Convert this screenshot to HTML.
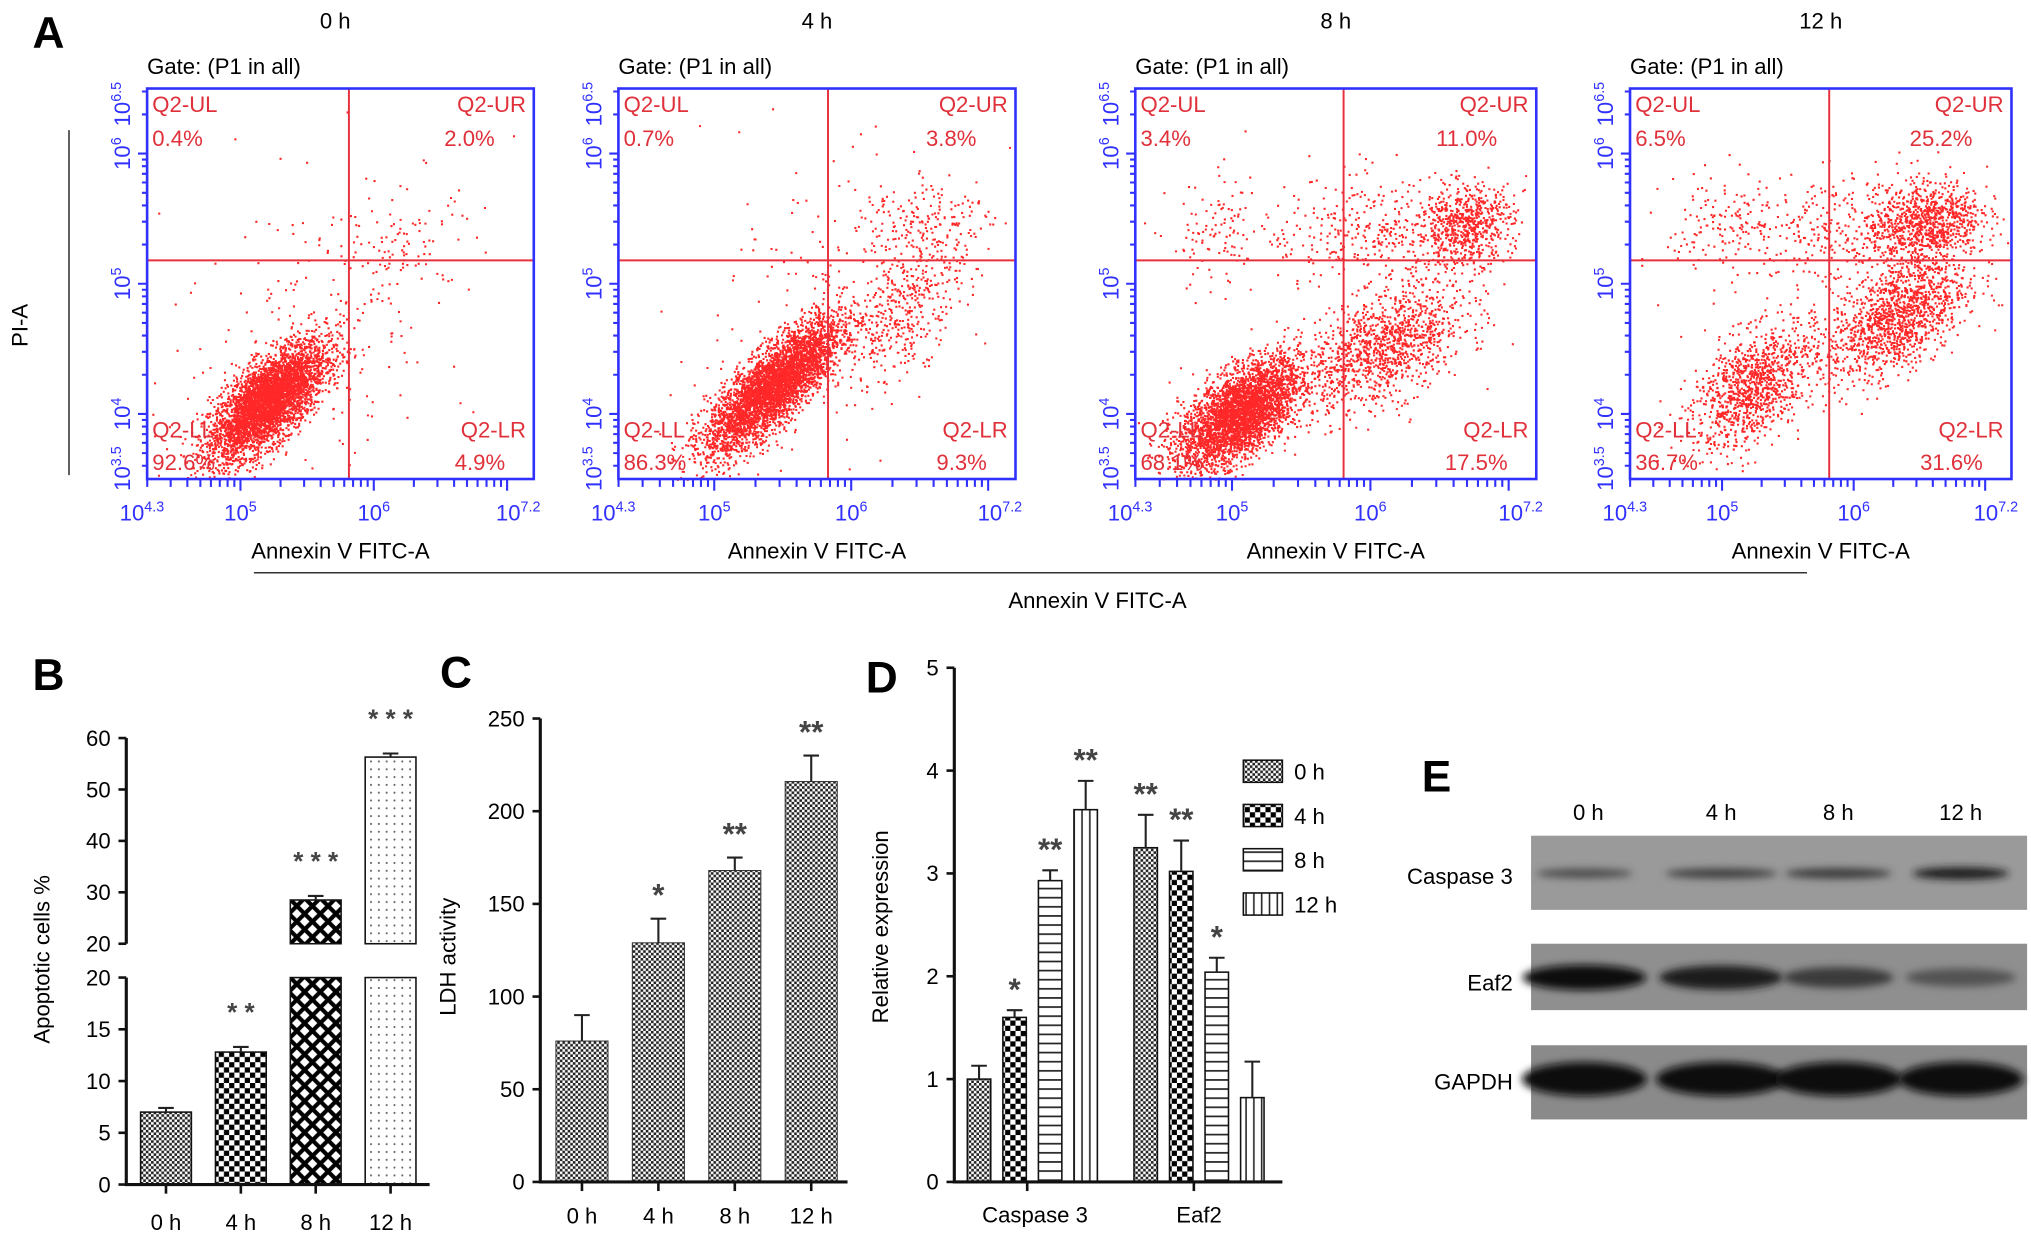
<!DOCTYPE html>
<html><head><meta charset="utf-8"><style>
html,body{margin:0;padding:0;background:#fff}
svg{display:block}
text{font-family:"Liberation Sans",sans-serif}
</style></head>
<body>
<svg id="fig" xmlns="http://www.w3.org/2000/svg" width="2031" height="1234" viewBox="0 0 1560 948" preserveAspectRatio="none">
<defs>
<pattern id="pFine" width="4" height="4" patternUnits="userSpaceOnUse"><rect width="4" height="4" fill="#fff"/><rect width="2" height="2" fill="#222"/><rect x="2" y="2" width="2" height="2" fill="#222"/></pattern>
<pattern id="pChk" width="8" height="8" patternUnits="userSpaceOnUse"><rect width="8" height="8" fill="#fff"/><rect width="4" height="4" fill="#000"/><rect x="4" y="4" width="4" height="4" fill="#000"/></pattern>
<pattern id="pDia" width="12" height="12" patternUnits="userSpaceOnUse"><rect width="12" height="12" fill="#fff"/><path d="M0 0L12 12M12 0L0 12M-3 9L3 15M9 -3L15 3M-3 3L3 -3M9 15L15 9" stroke="#000" stroke-width="3.2"/></pattern>
<pattern id="pDot" width="6" height="6" patternUnits="userSpaceOnUse"><rect width="6" height="6" fill="#fff"/><circle cx="3" cy="3" r="0.8" fill="#666"/></pattern>
<pattern id="pH" width="8" height="7" patternUnits="userSpaceOnUse"><rect width="8" height="7" fill="#fff"/><rect y="3" width="8" height="1.3" fill="#222"/></pattern>
<pattern id="pV" width="6" height="8" patternUnits="userSpaceOnUse"><rect width="6" height="8" fill="#fff"/><rect x="2.5" width="1.2" height="8" fill="#222"/></pattern>
<filter id="blur" x="-20%" y="-100%" width="140%" height="300%"><feGaussianBlur stdDeviation="3"/></filter>
</defs>
</svg>
<script>
// ---------- DATA ----------
const timeLabels = ["0 h","4 h","8 h","12 h"];
const qUL = ["0.4%","0.7%","3.4%","6.5%"];
const qUR = ["2.0%","3.8%","11.0%","25.2%"];
const qLL = ["92.6%","86.3%","68.1%","36.7%"];
const qLR = ["4.9%","9.3%","17.5%","31.6%"];
// clusters per plot: [u, v, sdU, sdV, rho, count] in plot-fraction coordinates
const clusters0 = [[0.31,0.20,0.075,0.075,0.7,4200],[0.66,0.60,0.09,0.07,0.2,90],[0.45,0.40,0.2,0.2,0.3,200]];
const clusters1 = [[0.39,0.24,0.085,0.085,0.8,4200],[0.73,0.45,0.07,0.1,0.6,400],[0.76,0.66,0.09,0.06,0.1,160],[0.5,0.45,0.2,0.2,0.3,150]];
const clusters2 = [[0.26,0.17,0.075,0.07,0.6,3600],[0.62,0.34,0.1,0.08,0.5,1200],[0.82,0.65,0.06,0.05,0.2,650],[0.6,0.64,0.15,0.07,0.1,380],[0.2,0.62,0.06,0.08,0.1,100]];
const clusters3 = [[0.32,0.24,0.08,0.08,0.5,1100],[0.70,0.42,0.09,0.08,0.5,1350],[0.78,0.66,0.07,0.05,0.2,800],[0.58,0.64,0.15,0.07,0.1,380],[0.25,0.65,0.08,0.07,0.1,150]];
const bCats = ["0 h","4 h","8 h","12 h"];
const bVals = [7.0,12.8,28.5,56.3];
const bErrs = [0.4,0.5,0.8,0.7];
const bStars = ["","* *","* * *","* * *"];
const bYTicksUpper = [20,30,40,50,60];
const bYTicksLower = [0,5,10,15,20];
const cCats = ["0 h","4 h","8 h","12 h"];
const cVals = [76,129,168,216];
const cErrs = [14,13,7,14];
const cStars = ["","*","**","**"];
const cYTicks = [0,50,100,150,200,250];
const dGroups = ["Caspase 3","Eaf2"];
const dSeries = ["0 h","4 h","8 h","12 h"];
const dCasp = [1.0,1.6,2.93,3.62];
const dCaspErr = [0.13,0.07,0.1,0.28];
const dEaf2 = [3.25,3.02,2.04,0.82];
const dEaf2Err = [0.32,0.3,0.14,0.35];
const dCaspStars = ["","*","**","**"];
const dEaf2Stars = ["**","**","*",""];
const dYTicks = [0,1,2,3,4,5];
const blotRows = ["Caspase 3","Eaf2","GAPDH"];
const bandCasp = [0.45,0.55,0.6,0.85];
const bandEaf2 = [0.95,0.85,0.6,0.4];
const bandGapdh = [1,1,1,1];

// ---------- HELPERS ----------
const NS="http://www.w3.org/2000/svg";
const svg=document.getElementById('fig');
function mk(tag,attrs,parent){const e=document.createElementNS(NS,tag);for(const k in attrs)e.setAttribute(k,attrs[k]);(parent||svg).appendChild(e);return e;}
function txt(s,attrs,parent){const e=mk('text',attrs,parent);e.textContent=s;return e;}
function sup(base,exp,attrs,parent){const e=mk('text',attrs,parent);const a=document.createElementNS(NS,'tspan');a.textContent=base;e.appendChild(a);const b=document.createElementNS(NS,'tspan');b.textContent=exp;b.setAttribute('dy','-7');b.setAttribute('font-size','11');e.appendChild(b);return e;}

// ---------- PANEL LETTERS ----------
[["A",25,37],["B",25,530],["C",338,528],["D",665,532],["E",1092,608]].forEach(l=>{
 const t=txt(l[0],{x:l[1],y:l[2],'font-family':'Liberation Serif','font-weight':'bold','font-size':34});
 
 
});

// ---------- PANEL A: FLOW ----------
let seed=12345;
function rnd(){seed=(seed*1103515245+12345)%2147483648;return seed/2147483648;}
function gauss(){let u=rnd()||1e-9,v=rnd();return Math.sqrt(-2*Math.log(u))*Math.cos(2*Math.PI*v);}
const plotsX=[[113,410],[475,780],[872,1180],[1252,1545]];
const crossX=[268,636,1032,1405];
const allClusters=[clusters0,clusters1,clusters2,clusters3];
const pT=68,pB=368;
const yMin=3.5,yMax=6.5,xMin=4.3,xMax=7.2;
for(let p=0;p<4;p++){
 const [L,R]=plotsX[p];const W=R-L,H=pB-pT;
 const g=mk('g',{});
 
 
 const ty=txt(timeLabels[p],{x:(L+R)/2+(p==0?-4:0),y:22,'text-anchor':'middle','font-size':17},g);
 
 
 const gt=txt('Gate: (P1 in all)',{x:L,y:57,'font-size':17},g);
 
 
 let d='';
 allClusters[p].forEach(c=>{
  const [u0,v0,su,sv,rho,n]=c;
  for(let i=0;i<n;i++){
   const a=gauss(),b=gauss();
   const u=u0+su*a, v=v0+sv*(rho*a+Math.sqrt(1-rho*rho)*b);
   if(u<0||u>1||v<0||v>1)continue;
   const x=L+u*W,y=pB-v*H;
   d+='M'+x.toFixed(1)+' '+y.toFixed(1)+'h1.6v1.6h-1.6z';
  }
 });
 const pts=mk('path',{d:d,fill:'#ff1010','fill-opacity':0.9},g);
 
 
 const gv=mk('line',{x1:crossX[p],x2:crossX[p],y1:pT,y2:pB,stroke:'#e8303c','stroke-width':1.5},g);
 
 
 const gh=mk('line',{x1:L,x2:R,y1:200,y2:200,stroke:'#e8303c','stroke-width':1.5},g);
 
 
 const box=mk('rect',{x:L,y:pT,width:W,height:H,fill:'none',stroke:'#3030ff','stroke-width':2},g);
 
 
 const qs=[['Q2-UL',L+4,86,'start'],[qUL[p],L+4,112,'start'],['Q2-UR',R-6,86,'end'],[qUR[p],R-30,112,'end'],['Q2-LL',L+4,336,'start'],[qLL[p],L+4,361,'start'],['Q2-LR',R-6,336,'end'],[qLR[p],R-22,361,'end']];
 qs.forEach(q=>{const t=txt(q[0],{x:q[1],y:q[2],'text-anchor':q[3],'font-size':17,fill:'#e0303a'},g);
  
  });
 let td='';
 for(let k=3;k<=6;k++)for(let m=1;m<=9;m++){const v=k+Math.log10(m);if(v<yMin-1e-6||v>yMax+1e-6)continue;const y=pB-(v-yMin)/(yMax-yMin)*H;td+='M'+(L-(m==1?7:4))+' '+y.toFixed(1)+'H'+L;}
 for(let k=4;k<=7;k++)for(let m=1;m<=9;m++){const v=k+Math.log10(m);if(v<xMin-1e-6||v>xMax+1e-6)continue;const x=L+(v-xMin)/(xMax-xMin)*W;td+='M'+x.toFixed(1)+' '+pB+'V'+(pB+(m==1?9:6));}
 const tk=mk('path',{d:td,stroke:'#3030ff','stroke-width':1.6,fill:'none'},g);
 
 
 [[6.5,'6.5'],[6,'6'],[5,'5'],[4,'4'],[3.5,'3.5']].forEach(t=>{
  const y=pB-(t[0]-yMin)/(yMax-yMin)*H;
  const e=sup('10',t[1],{x:0,y:0,'font-size':17,fill:'#3030ff','text-anchor':'middle',transform:'translate('+(L-13)+','+(y+(t[0]==6.5?12:t[0]==3.5?-8:0))+') rotate(-90)'},g);
  
  
 });
 [[4.3,'4.3'],[5,'5'],[6,'6'],[7.2,'7.2']].forEach(t=>{
  const x=L+(t[0]-xMin)/(xMax-xMin)*W;
  const e=sup('10',t[1],{x:x+(t[0]==4.3?-4:t[0]==7.2?-12:0),y:400,'font-size':17,fill:'#3030ff','text-anchor':'middle'},g);
  
  
 });
 const xt=txt('Annexin V FITC-A',{x:(L+R)/2,y:429,'text-anchor':'middle','font-size':17},g);
 
 
}
const shared=mk('line',{x1:195,x2:1388,y1:440,y2:440,stroke:'#333','stroke-width':1.2});


const sharedT=txt('Annexin V FITC-A',{x:843,y:467,'text-anchor':'middle','font-size':17});


const pil=mk('line',{x1:53,x2:53,y1:100,y2:365,stroke:'#333','stroke-width':1.2});


const pit=txt('PI-A',{x:0,y:0,'text-anchor':'middle','font-size':17,transform:'translate(21,250) rotate(-90)'});



function errBar(g,cx,yTop,yErr){
 const e=mk('path',{d:'M'+cx+' '+yTop+'V'+yErr+'M'+(cx-6)+' '+yErr+'H'+(cx+6),stroke:'#222','stroke-width':1.6,fill:'none'},g);
 
 
}
function star(g,s,cx,y,size){
 if(!s)return;
 const t=txt(s,{x:cx,y:y,'text-anchor':'middle','font-size':size||22,fill:'#444','font-weight':'bold'},g);
 
 
}

// ---------- PANEL B ----------
(function(){
 const g=mk('g',{});
 
 
 const ax=97,y0=910,yL20=751,yU20=725,yU60=567;
 function yLow(v){return y0-Math.min(v,20)/20*(y0-yL20);}
 function yUp(v){return yU20-(v-20)/40*(yU20-yU60);}
 const fills=['url(#pFine)','url(#pChk)','url(#pDia)','url(#pDot)'];
 const bw=39,slot=57.5,start=108;
 bVals.forEach((v,i)=>{
  const x=start+i*slot;
  const r=mk('rect',{x:x,y:yLow(v),width:bw,height:y0-yLow(v),fill:fills[i],stroke:'#111','stroke-width':1.2},g);
  
  
  let top=yLow(v);
  if(v>20){
   const r2=mk('rect',{x:x,y:yUp(v),width:bw,height:yU20-yUp(v),fill:fills[i],stroke:'#111','stroke-width':1.2},g);
   
   
   top=yUp(v);
   errBar(g,x+bw/2,top,yUp(v+bErrs[i]));
   star(g,bStars[i],x+bw/2,yUp(v+bErrs[i])-20,20);
  } else {
   errBar(g,x+bw/2,top,yLow(v+bErrs[i]));
   star(g,bStars[i],x+bw/2,yLow(v+bErrs[i])-20,20);
  }
  const tl=txt(bCats[i],{x:x+bw/2,y:945,'text-anchor':'middle','font-size':17},g);
  
  
  const tm=mk('line',{x1:x+bw/2,x2:x+bw/2,y1:y0,y2:y0+7,stroke:'#111','stroke-width':2},g);
  
  
 });
 const axis=mk('path',{d:'M'+ax+' '+yU60+'V'+yU20+'M'+ax+' '+yL20+'V'+y0+'H330',stroke:'#111','stroke-width':2.4,fill:'none'},g);
 
 
 bYTicksUpper.forEach(v=>{const y=yUp(v);
  const t=mk('line',{x1:ax-6,x2:ax,y1:y,y2:y,stroke:'#111','stroke-width':2},g);
  
  
  const l=txt(String(v),{x:ax-12,y:y+6,'text-anchor':'end','font-size':17},g);
  
  });
 bYTicksLower.forEach(v=>{const y=yLow(v);
  const t=mk('line',{x1:ax-6,x2:ax,y1:y,y2:y,stroke:'#111','stroke-width':2},g);
  
  
  const l=txt(String(v),{x:ax-12,y:y+6,'text-anchor':'end','font-size':17},g);
  
  });
 const yt=txt('Apoptotic  cells %',{x:0,y:0,'text-anchor':'middle','font-size':17,transform:'translate(38,737) rotate(-90)'},g);
 
 
})();

// ---------- PANEL C ----------
(function(){
 const g=mk('g',{});
 
 
 const ax=415,y0=908,yTop=552;
 function y(v){return y0-v/250*(y0-yTop);}
 const bw=40,slot=58.7,start=427;
 cVals.forEach((v,i)=>{
  const x=start+i*slot;
  const r=mk('rect',{x:x,y:y(v),width:bw,height:y0-y(v),fill:'url(#pFine)',stroke:'#333','stroke-width':0.8},g);
  
  
  errBar(g,x+bw/2,y(v),y(v+cErrs[i]));
  star(g,cStars[i],x+bw/2,y(v+cErrs[i])-10,24);
  const tm=mk('line',{x1:x+bw/2,x2:x+bw/2,y1:y0,y2:y0+7,stroke:'#111','stroke-width':2},g);
  
  
  const tl=txt(cCats[i],{x:x+bw/2,y:940,'text-anchor':'middle','font-size':17},g);
  
  
 });
 const axis=mk('path',{d:'M'+ax+' '+yTop+'V'+y0+'H651',stroke:'#111','stroke-width':2.4,fill:'none'},g);
 
 
 cYTicks.forEach(v=>{
  const t=mk('line',{x1:ax-6,x2:ax,y1:y(v),y2:y(v),stroke:'#111','stroke-width':2},g);
  
  
  const l=txt(String(v),{x:ax-12,y:y(v)+6,'text-anchor':'end','font-size':17},g);
  
  
 });
 const yt=txt('LDH activity',{x:0,y:0,'text-anchor':'middle','font-size':17,transform:'translate(350,735) rotate(-90)'},g);
 
 
})();

// ---------- PANEL D ----------
(function(){
 const g=mk('g',{});
 
 
 const ax=733,y0=908,yTop=513;
 function y(v){return y0-v/5*(y0-yTop);}
 const fills=['url(#pFine)','url(#pChk)','url(#pH)','url(#pV)'];
 const bw=18,slot=27.3,gStart=[743,871];
 const vals=[dCasp,dEaf2],errs=[dCaspErr,dEaf2Err],stars=[dCaspStars,dEaf2Stars];
 for(let gi=0;gi<2;gi++){
  for(let i=0;i<4;i++){
   const x=gStart[gi]+i*slot,v=vals[gi][i];
   const r=mk('rect',{x:x,y:y(v),width:bw,height:y0-y(v),fill:fills[i],stroke:'#111','stroke-width':1.2},g);
   
   
   errBar(g,x+bw/2,y(v),y(v+errs[gi][i]));
   star(g,stars[gi][i],x+bw/2,y(v+errs[gi][i])-8,24);
  }
 }
 const axis=mk('path',{d:'M'+ax+' '+yTop+'V'+y0+'H985',stroke:'#111','stroke-width':2.4,fill:'none'},g);
 
 
 [[789,'Caspase 3',795],[917,'Eaf2',921]].forEach((c,i)=>{
  const tm=mk('line',{x1:c[0],x2:c[0],y1:y0,y2:y0+7,stroke:'#111','stroke-width':2},g);
  
  
  const tl=txt(dGroups[i],{x:c[2],y:939,'text-anchor':'middle','font-size':17},g);
  
  
 });
 dYTicks.forEach(v=>{
  const t=mk('line',{x1:ax-6,x2:ax,y1:y(v),y2:y(v),stroke:'#111','stroke-width':2},g);
  
  
  const l=txt(String(v),{x:ax-12,y:y(v)+6,'text-anchor':'end','font-size':17},g);
  
  
 });
 const yt=txt('Relative expression',{x:0,y:0,'text-anchor':'middle','font-size':17,transform:'translate(682,712) rotate(-90)'},g);
 
 
 dSeries.forEach((s,i)=>{
  const ly=584+i*34;
  const r=mk('rect',{x:955,y:ly,width:30,height:17,fill:fills[i],stroke:'#111','stroke-width':1.2},g);
  
  
  const l=txt(s,{x:994,y:ly+15,'font-size':17},g);
  
  
 });
})();

// ---------- PANEL E ----------
(function(){
 const g=mk('g',{});
 
 
 const laneX=[1220,1322,1412,1506];
 timeLabels.forEach((s,i)=>{
  const l=txt(s,{x:laneX[i],y:630,'text-anchor':'middle','font-size':17},g);
  
  
 });
 const rows=[[642,699,673,'#9a9a9a',bandCasp,5,671],[725,776,755,'#8f8f8f',bandEaf2,10,751],[803,860,831,'#8a8a8a',bandGapdh,13,829]];
 const bands=[bandCasp,bandEaf2,bandGapdh];
 const bandW=[[74,86,82,74],[95,95,85,85],[96,100,98,96]];
 rows.forEach((r,ri)=>{
  const rc=mk('rect',{x:1176,y:r[0],width:381,height:r[1]-r[0],fill:r[3]},g);
  
  
  const lb=txt(blotRows[ri],{x:1162,y:r[2]+6,'text-anchor':'end','font-size':17},g);
  
  
  bands[ri].forEach((v,i)=>{
   const c=Math.round(120*(1-v)+10);
   const e=mk('ellipse',{cx:laneX[i]+(i==0?-3:0),cy:r[6],rx:bandW[ri][i]/2,ry:r[5]*(0.5+0.5*v),fill:'rgb('+c+','+c+','+c+')',filter:'url(#blur)'},g);
   
   
  });
 });
})();
</script>
</body></html>
